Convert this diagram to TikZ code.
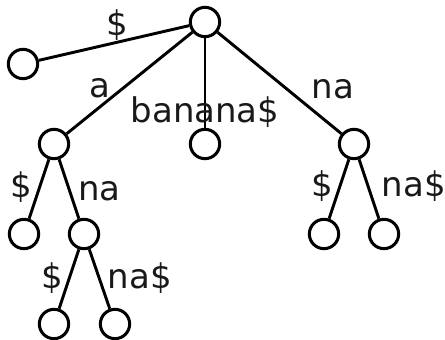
\documentclass[tikz,border=0pt]{standalone}
\usepackage{fontspec}
\setmainfont{DejaVu Sans}
\usetikzlibrary{positioning}

\tikzset{
  vertex/.style={circle, draw, line width=2.6pt, minimum size=0.88cm, inner sep=0pt},
  lbl/.style={inner sep=2pt, text=black!90, font=\fontsize{29}{31}\selectfont}
}

\begin{document}
\begin{tikzpicture}[on grid, line width=2.5pt]
            \useasboundingbox (0,0) rectangle (13.35,-10.2);
            % States
            \node[vertex] (root) at (6.15,-0.66) {};
            \node[vertex, below left=1.26cm and 5.46cm of root] (d) {};
            \node[vertex, below left=3.66cm and 4.53cm of root] (a) {};
            \node[vertex, below=3.66cm of root] (banana) {};
            \node[vertex, below right=3.66cm and 4.47cm of root] (na) {};
            \node[vertex, below left=2.7cm and 0.9cm of a] (ad) {};
            \node[vertex, below right=2.7cm and 0.9cm of a] (ana) {};
            \node[vertex, below left=2.7cm and 0.9cm of ana] (anad) {};
            \node[vertex, below right=2.7cm and 0.93cm of ana] (anana) {};
            \node[vertex, below left=2.7cm and 0.9cm of na] (nad) {};
            \node[vertex, below right=2.7cm and 0.9cm of na] (nana) {};
            
            % edges
            \path
            (root) edge node[lbl, above=-0.06cm, pos=0.48] {\$} (d)
            (root) edge node[lbl, left=0.28cm, pos=0.55] {a} (a)
            (root) edge node[lbl, pos=0.82] {banana\$} (banana)
            (root) edge node[lbl, right=0.63cm, pos=0.56] {na} (na)
            (a) edge node[lbl, left=0.1cm, pos=0.47] {\$} (ad)
            (a) edge node[lbl, right=0.14cm, pos=0.53] {na} (ana)
            (ana) edge node[lbl, left=0.08cm, pos=0.49] {\$} (anad)
            (ana) edge node[lbl, right=0.14cm, pos=0.49] {na\$} (anana)
            (na) edge node[lbl, left=0.1cm, pos=0.45] {\$} (nad)
            (na) edge node[lbl, right=0.3cm, pos=0.45] {na\$} (nana);
        \end{tikzpicture}
\end{document}
